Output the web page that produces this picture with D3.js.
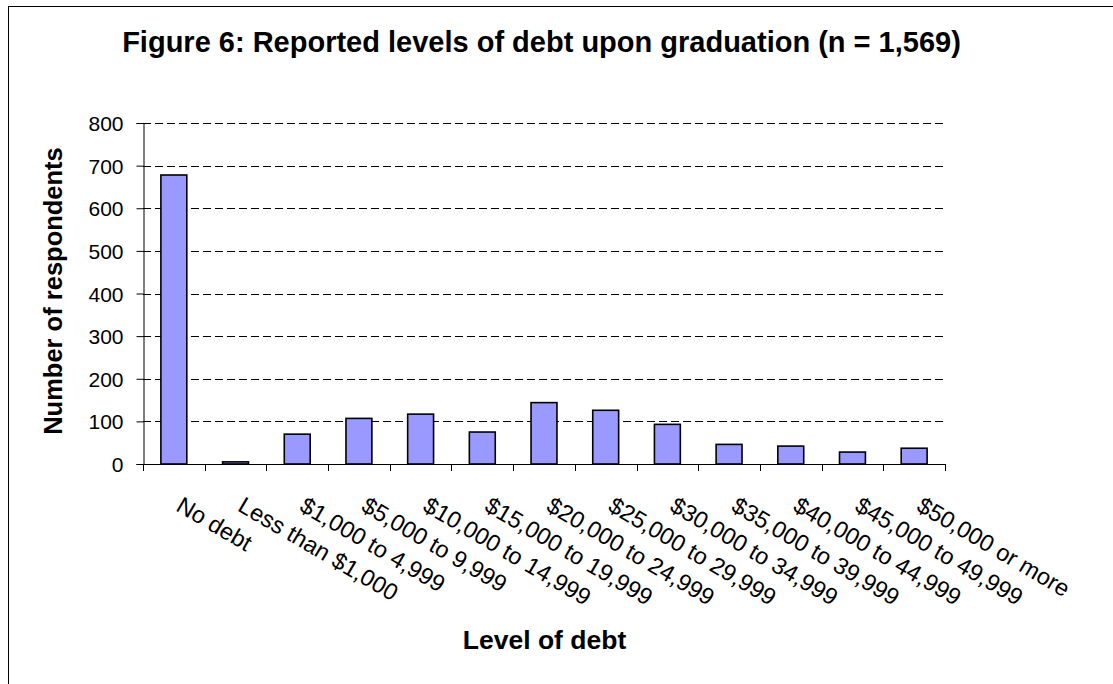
<!DOCTYPE html>
<html><head><meta charset="utf-8">
<script src="https://cdn.jsdelivr.net/npm/d3@7"></script>
<style>body{margin:0;background:#fff;} svg{display:block;font-family:"Liberation Sans",Arial,sans-serif;}</style>
</head><body>
<svg id="c" width="1113" height="684"></svg>
<script>
const categories = ["No debt","Less than $1,000","$1,000 to 4,999","$5,000 to 9,999","$10,000 to 14,999","$15,000 to 19,999","$20,000 to 24,999","$25,000 to 29,999","$30,000 to 34,999","$35,000 to 39,999","$40,000 to 44,999","$45,000 to 49,999","$50,000 or more"];
const values = [678, 5, 70, 107, 117, 75, 144, 126, 93, 46, 42, 28, 37];
const yTicks = [0,100,200,300,400,500,600,700,800];
const titleText = "Figure 6: Reported levels of debt upon graduation (n = 1,569)";
const xTitle = "Level of debt";
const yTitle = "Number of respondents";

const svg = d3.select("#c");
svg.append("rect").attr("x",8.5).attr("y",6.5).attr("width",1120).attr("height",700)
  .attr("fill","#fff").attr("stroke","#000").attr("stroke-width",1);

const pL=143, pR=945, pT=123, pB=464;
const x = d3.scaleBand().domain(categories).range([pL,pR]).paddingInner(0.58).paddingOuter(0.29);
const xb = d3.scaleBand().domain(categories).range([pL,pR]);
const y = d3.scaleLinear().domain([0,800]).range([pB,pT]);

svg.append("text").attr("x",541.5).attr("y",52).attr("text-anchor","middle")
  .attr("font-size",29).attr("font-weight","bold").text(titleText);

// gridlines
svg.append("g").selectAll("line").data(yTicks.filter(d=>d>0)).join("line")
  .attr("x1",pL).attr("x2",pR).attr("y1",d=>Math.round(y(d))+0.5).attr("y2",d=>Math.round(y(d))+0.5)
  .attr("stroke","#000").attr("stroke-dasharray","8,4").attr("stroke-width",1);

// bars
svg.append("g").selectAll("rect").data(values).join("rect")
  .attr("x",(d,i)=>x(categories[i])).attr("width",x.bandwidth())
  .attr("y",d=>y(d)).attr("height",d=>pB-y(d))
  .attr("fill","#9999ff").attr("stroke","#000").attr("stroke-width",1.6);

// y axis
const ya = svg.append("g").attr("transform",`translate(${pL+0.5},0)`)
  .call(d3.axisLeft(y).tickValues(yTicks).tickSize(7).tickPadding(13).tickFormat(d3.format("d")));
ya.select(".domain").attr("stroke","#000");
ya.selectAll("line").attr("stroke","#000");
ya.selectAll("text").attr("font-size",21).attr("font-family","Liberation Sans, Arial, sans-serif").attr("fill","#000").attr("dy","0.36em");

// x axis
svg.append("line").attr("x1",pL).attr("x2",pR).attr("y1",pB+0.5).attr("y2",pB+0.5).attr("stroke","#000");
const bounds = categories.map(c=>xb(c)).concat([pR]);
svg.append("g").selectAll("line").data(bounds).join("line")
  .attr("x1",d=>Math.round(d)+0.5).attr("x2",d=>Math.round(d)+0.5).attr("y1",pB).attr("y2",pB+7).attr("stroke","#000");

svg.append("g").selectAll("text").data(categories).join("text")
  .attr("transform",d=>`translate(${xb(d)+xb.bandwidth()/2+1},${pB+46}) rotate(30.5)`)
  .attr("font-size",23.5).attr("text-anchor","start").text(d=>d);

svg.append("text").attr("x",544.5).attr("y",649).attr("text-anchor","middle")
  .attr("font-size",26.5).attr("font-weight","bold").text(xTitle);

svg.append("text").attr("transform",`translate(62,291) rotate(-90)`).attr("text-anchor","middle")
  .attr("font-size",25.5).attr("font-weight","bold").text(yTitle);
</script>
</body></html>
